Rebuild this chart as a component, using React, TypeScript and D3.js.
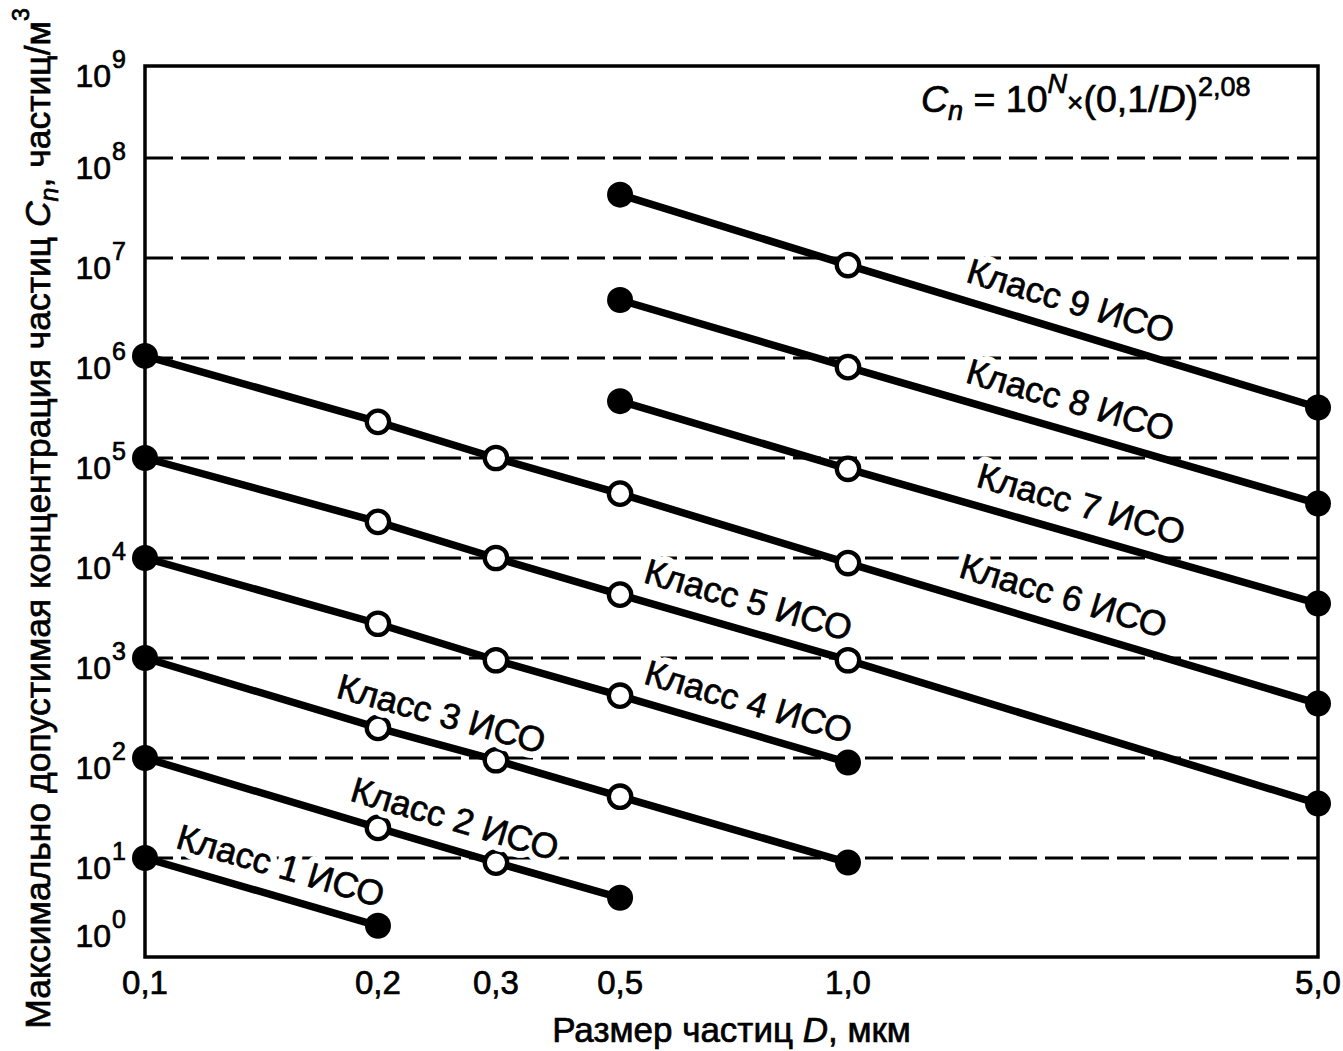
import React from "react";
import * as d3 from "d3";

// ---- data ----
const particleSizes = [0.1, 0.2, 0.3, 0.5, 1.0, 5.0];
const particleSizeLabels = ["0,1", "0,2", "0,3", "0,5", "1,0", "5,0"];
const decadeExponents = [0, 1, 2, 3, 4, 5, 6, 7, 8, 9];
const gridExponents = [1, 2, 3, 4, 5, 6, 7, 8];

const class1Sizes = [0.1, 0.2];
const class1Values = [10, 2.1];
const class2Sizes = [0.1, 0.2, 0.3, 0.5];
const class2Values = [100, 20, 9, 4];
const class3Sizes = [0.1, 0.2, 0.3, 0.5, 1.0];
const class3Values = [1000, 200, 95, 41, 9];
const class4Sizes = [0.1, 0.2, 0.3, 0.5, 1.0];
const class4Values = [10000, 2200, 950, 420, 90];
const class5Sizes = [0.1, 0.2, 0.3, 0.5, 1.0, 5.0];
const class5Values = [100000, 23000, 10000, 4300, 950, 35];
const class6Sizes = [0.1, 0.2, 0.3, 0.5, 1.0, 5.0];
const class6Values = [1050000, 230000, 100000, 44000, 8900, 350];
const class7Sizes = [0.5, 1.0, 5.0];
const class7Values = [370000, 78000, 3500];
const class8Sizes = [0.5, 1.0, 5.0];
const class8Values = [3800000, 810000, 35000];
const class9Sizes = [0.5, 1.0, 5.0];
const class9Values = [43000000, 8500000, 320000];

const classNames = [
  "Класс 1 ИСО",
  "Класс 2 ИСО",
  "Класс 3 ИСО",
  "Класс 4 ИСО",
  "Класс 5 ИСО",
  "Класс 6 ИСО",
  "Класс 7 ИСО",
  "Класс 8 ИСО",
  "Класс 9 ИСО",
];
// particle size (x value) at which each class label is centred
const classLabelSizes = [0.146, 0.253, 0.242, 0.72, 0.72, 2.03, 2.16, 2.08, 2.08];

const classSizes = [class1Sizes, class2Sizes, class3Sizes, class4Sizes, class5Sizes, class6Sizes, class7Sizes, class8Sizes, class9Sizes];
const classValues = [class1Values, class2Values, class3Values, class4Values, class5Values, class6Values, class7Values, class8Values, class9Values];

const FONT = "'Liberation Sans', Arial, Helvetica, sans-serif";

export default function App() {
  const W = 1343;
  const H = 1051;
  const left = 145;
  const right = 1318;
  const top = 66;
  const bottom = 957;
  const xFractions = [0, 0.1986, 0.2992, 0.405, 0.5993, 1];

  const x = d3
    .scaleLog()
    .domain(particleSizes)
    .range(xFractions.map((f) => left + f * (right - left)));
  const y = d3.scaleLog().domain([1, 1e9]).range([bottom + 1, top - 8]);

  const series = classNames.map((name, i) => ({
    name,
    points: classSizes[i].map((d, j) => ({ d, v: classValues[i][j] })),
    labelAt: classLabelSizes[i],
  }));

  const line = d3
    .line<{ d: number; v: number }>()
    .x((p) => x(p.d))
    .y((p) => y(p.v));

  const labelOffset = 31;

  const labelPlacement = (s: (typeof series)[number]) => {
    const px = x(s.labelAt);
    const pts = s.points.map((p) => [x(p.d), y(p.v)]);
    let i = 0;
    while (i < pts.length - 2 && pts[i + 1][0] < px) i++;
    const [x0, y0] = pts[i];
    const [x1, y1] = pts[i + 1];
    const t = (px - x0) / (x1 - x0);
    const py = y0 + t * (y1 - y0);
    const a = Math.atan2(y1 - y0, x1 - x0);
    return {
      cx: px + labelOffset * Math.sin(a),
      cy: py - labelOffset * Math.cos(a),
      deg: (a * 180) / Math.PI,
    };
  };

  const yLabelBaseline = (e: number) =>
    Math.min(Math.max(y(Math.pow(10, e)) + 21, top + 21), bottom - 10);

  const ink = { fill: "#000", stroke: "#000", strokeWidth: 0.7 };

  return (
    <svg
      width={W}
      height={H}
      style={{ position: "absolute", left: 0, top: 0, background: "#fff" }}
      fontFamily={FONT}
    >
      <rect x={0} y={0} width={W} height={H} fill="#fff" />

      {/* dashed grid lines */}
      {gridExponents.map((e) => (
        <line
          key={"g" + e}
          x1={left}
          x2={right}
          y1={y(Math.pow(10, e))}
          y2={y(Math.pow(10, e))}
          stroke="#000"
          strokeWidth={3}
          strokeDasharray="28 8"
        />
      ))}

      {/* frame */}
      <rect x={left} y={top} width={right - left} height={bottom - top} fill="none" stroke="#000" strokeWidth={3.5} />

      {/* class lines */}
      {series.map((s) => (
        <path key={"l" + s.name} d={line(s.points) || ""} fill="none" stroke="#000" strokeWidth={7.5} />
      ))}

      {/* markers */}
      {series.map((s) =>
        s.points.map((p, j) => {
          const filled = j === 0 || j === s.points.length - 1;
          return filled ? (
            <circle key={s.name + "m" + j} cx={x(p.d)} cy={y(p.v)} r={13} fill="#000" />
          ) : (
            <circle
              key={s.name + "m" + j}
              cx={x(p.d)}
              cy={y(p.v)}
              r={11.2}
              fill="#fff"
              stroke="#000"
              strokeWidth={4.3}
            />
          );
        })
      )}

      {/* class labels: white halo layer, then ink layer */}
      {series.map((s) => {
        const pl = labelPlacement(s);
        const tr = `translate(${pl.cx},${pl.cy}) rotate(${pl.deg})`;
        return (
          <g key={"t" + s.name}>
            <text
              transform={tr}
              textAnchor="middle"
              dy="0.36em"
              fontSize={35.5}
              fill="#fff"
              stroke="#fff"
              strokeWidth={14}
              strokeLinejoin="round"
            >
              {s.name}
            </text>
            <text transform={tr} textAnchor="middle" dy="0.36em" fontSize={35.5} {...ink}>
              {s.name}
            </text>
          </g>
        );
      })}

      {/* x tick labels */}
      {particleSizes.map((d, i) => (
        <text key={"xt" + d} x={x(d)} y={994} textAnchor="middle" fontSize={33} {...ink}>
          {particleSizeLabels[i]}
        </text>
      ))}

      {/* y tick labels */}
      {decadeExponents.map((e) => {
        const by = yLabelBaseline(e);
        return (
          <g key={"yt" + e}>
            <text x={left - 34} y={by} textAnchor="end" fontSize={32} {...ink}>
              10
            </text>
            <text x={left - 33} y={by - 19} textAnchor="start" fontSize={25} {...ink}>
              {e}
            </text>
          </g>
        );
      })}

      {/* formula */}
      <text x={921} y={112} fontSize={37.5} {...ink}>
        <tspan fontStyle="italic">C</tspan>
        <tspan fontStyle="italic" fontSize={27} dy={8}>n</tspan>
        <tspan dy={-8}>{" = 10"}</tspan>
        <tspan fontStyle="italic" fontSize={27} dy={-19}>N</tspan>
        <tspan dy={19} fontSize={28}>×</tspan>
        <tspan>(0,1/</tspan>
        <tspan fontStyle="italic">D</tspan>
        <tspan>)</tspan>
        <tspan fontSize={27} dy={-16}>2,08</tspan>
      </text>

      {/* x axis title */}
      <text x={(left + right) / 2} y={1042} textAnchor="middle" fontSize={35} {...ink}>
        {"Размер частиц "}
        <tspan fontStyle="italic">D</tspan>
        {", мкм"}
      </text>

      {/* y axis title */}
      <text transform={`translate(50,${(top + bottom) / 2 + 7}) rotate(-90)`} textAnchor="middle" fontSize={35.5} {...ink}>
        {"Максимально допустимая концентрация частиц "}
        <tspan fontStyle="italic">C</tspan>
        <tspan fontStyle="italic" fontSize={25} dy={8}>n</tspan>
        <tspan dy={-8}>, частиц/м</tspan>
        <tspan fontSize={23} dy={-21}>3</tspan>
      </text>
    </svg>
  );
}
